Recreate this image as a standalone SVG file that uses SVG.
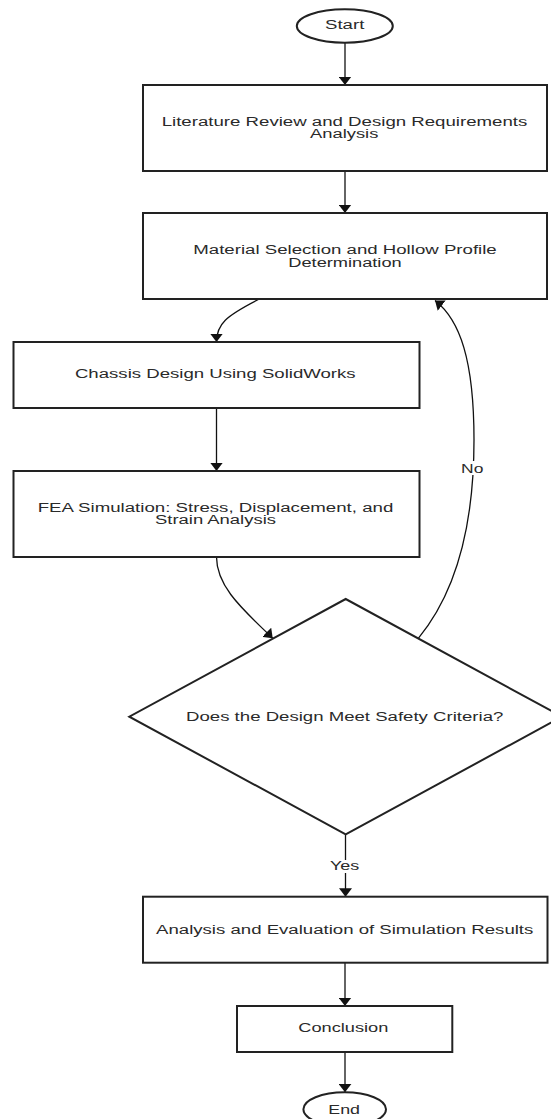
<svg xmlns="http://www.w3.org/2000/svg" width="551" height="1119" viewBox="0 0 551 1119">
<defs>
<style>
.box{fill:#fff;stroke:#222;stroke-width:2}
.t{font-family:"Liberation Sans",Arial,sans-serif;font-size:12.3px;fill:#2a2a2a;text-anchor:middle}
.c{fill:none;stroke:#111;stroke-width:1.3}
.lbl{fill:#fff;stroke:none}
</style>
<marker id="ah" markerUnits="userSpaceOnUse" markerWidth="9" markerHeight="13" refX="8.5" refY="6.5" orient="auto">
<path d="M0,0 L8.5,6.5 L0,13 Z" fill="#111"/>
</marker>
</defs>
<rect width="551" height="1119" fill="#fff"/>

<g id="connectors">
<path class="c" d="M345,43 L345,85" marker-end="url(#ah)"/>
<path class="c" d="M345,171 L345,213" marker-end="url(#ah)"/>
<path class="c" d="M258.3,299.5 C226,316 216.5,324 216.5,342" marker-end="url(#ah)"/>
<path class="c" d="M216.5,408 L216.5,471" marker-end="url(#ah)"/>
<path class="c" d="M216.5,557 C216.5,588 246,612 272.7,638.3" marker-end="url(#ah)"/>
<path class="c" d="M418.3,638.3 C450,600 474,540 474,440 C474,360 460,320 435,300.5" marker-end="url(#ah)"/>
<path class="c" d="M345.5,834.3 L345.5,896.7" marker-end="url(#ah)"/>
<path class="c" d="M345,963 L345,1006" marker-end="url(#ah)"/>
<path class="c" d="M345,1052 L345,1092.3" marker-end="url(#ah)"/>
<rect class="lbl" x="461" y="461" width="23" height="14"/>
<text class="t" x="472.2" y="472.7" textLength="22.3" lengthAdjust="spacingAndGlyphs">No</text>
<rect class="lbl" x="330" y="860" width="30" height="13"/>
<text class="t" x="344.7" y="870" textLength="29.3" lengthAdjust="spacingAndGlyphs">Yes</text>
</g>

<g id="start">
<ellipse class="box" cx="344.8" cy="26" rx="48" ry="16.7"/>
<text class="t" x="344.7" y="29.3" textLength="39.3" lengthAdjust="spacingAndGlyphs">Start</text>
</g>

<g id="literature">
<rect class="box" x="143" y="85" width="404" height="86"/>
<text class="t" x="344.5" y="125.6" textLength="365.6" lengthAdjust="spacingAndGlyphs">Literature Review and Design Requirements</text>
<text class="t" x="344.2" y="138.3" textLength="68.3" lengthAdjust="spacingAndGlyphs">Analysis</text>
</g>

<g id="material">
<rect class="box" x="143" y="213" width="404" height="86"/>
<text class="t" x="345" y="254" textLength="303.4" lengthAdjust="spacingAndGlyphs">Material Selection and Hollow Profile</text>
<text class="t" x="345" y="266.7" textLength="113.4" lengthAdjust="spacingAndGlyphs">Determination</text>
</g>

<g id="chassis">
<rect class="box" x="13.5" y="342" width="406" height="66"/>
<text class="t" x="215.3" y="378.3" textLength="280.7" lengthAdjust="spacingAndGlyphs">Chassis Design Using SolidWorks</text>
</g>

<g id="fea">
<rect class="box" x="13.5" y="471" width="406" height="86"/>
<text class="t" x="215.5" y="511.7" textLength="355.6" lengthAdjust="spacingAndGlyphs">FEA Simulation: Stress, Displacement, and</text>
<text class="t" x="215.5" y="524.3" textLength="121" lengthAdjust="spacingAndGlyphs">Strain Analysis</text>
</g>

<g id="decision">
<polygon class="box" points="345.7,599 129.3,716.7 345.7,834.3 562,716.7"/>
<text class="t" x="344.7" y="720.7" textLength="317.3" lengthAdjust="spacingAndGlyphs">Does the Design Meet Safety Criteria?</text>
</g>

<g id="analysis">
<rect class="box" x="143" y="896.7" width="404.5" height="66"/>
<text class="t" x="344.7" y="934" textLength="377.3" lengthAdjust="spacingAndGlyphs">Analysis and Evaluation of Simulation Results</text>
</g>

<g id="conclusion">
<rect class="box" x="237" y="1006" width="215.3" height="46"/>
<text class="t" x="343.3" y="1031.7" textLength="90" lengthAdjust="spacingAndGlyphs">Conclusion</text>
</g>

<g id="end">
<ellipse class="box" cx="344.7" cy="1109.3" rx="41.3" ry="17"/>
<text class="t" x="344.2" y="1114" textLength="31.7" lengthAdjust="spacingAndGlyphs">End</text>
</g>
</svg>
